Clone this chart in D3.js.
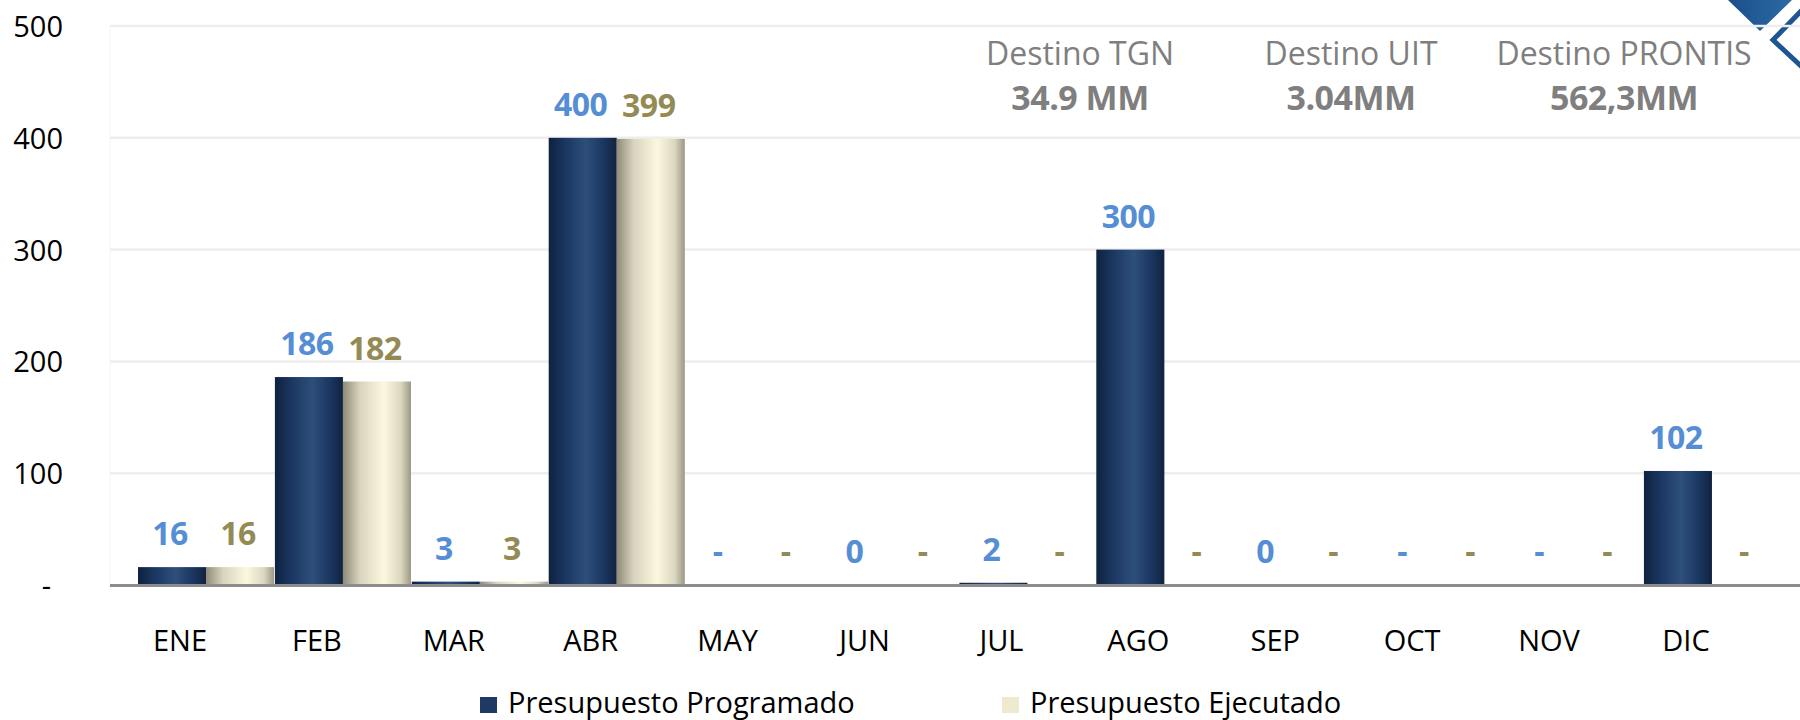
<!DOCTYPE html>
<html>
<head>
<meta charset="utf-8">
<script src="https://cdn.jsdelivr.net/npm/d3@7"></script>
<style>
  html, body { margin: 0; padding: 0; background: #ffffff; }
  svg { display: block; font-family: "Open Sans", "Noto Sans", sans-serif; }
</style>
</head>
<body>
<svg id="chart" width="1800" height="720"></svg>
<script>
// ---------- data ----------
const months = ["ENE", "FEB", "MAR", "ABR", "MAY", "JUN", "JUL", "AGO", "SEP", "OCT", "NOV", "DIC"];
const programado = [16, 186, 3, 400, null, 0, 2, 300, 0, null, null, 102];
const ejecutado = [16, 182, 3, 399, null, null, null, null, null, null, null, null];
const seriesNames = ["Presupuesto Programado", "Presupuesto Ejecutado"];
const yTicks = [0, 100, 200, 300, 400, 500];
const noteTitles = ["Destino TGN", "Destino UIT", "Destino PRONTIS"];
const noteValues = ["34.9 MM", "3.04MM", "562,3MM"];

// ---------- setup ----------
const svg = d3.select("#chart");
const plotLeft = 110, plotRight = 1800, plotTop = 26, plotBottom = 585;

const defs = svg.append("defs");
function hGrad(id, stops) {
  const g = defs.append("linearGradient").attr("id", id)
    .attr("x1", "0%").attr("x2", "100%").attr("y1", "0%").attr("y2", "0%");
  stops.forEach(s => g.append("stop").attr("offset", s[0]).attr("stop-color", s[1]));
}
hGrad("gradProg", [["0%", "#0f223f"], ["25%", "#1b3762"], ["55%", "#2e4f7b"], ["80%", "#1b3762"], ["100%", "#10233f"]]);
hGrad("gradEje", [["0%", "#8f8b78"], ["25%", "#d9d4bd"], ["60%", "#fcf7df"], ["85%", "#dcd7c0"], ["100%", "#9c9884"]]);
hGrad("gradLogo", [["0%", "#1a4f8a"], ["100%", "#2d6aa6"]]);

const seriesData = [programado, ejecutado];
const seriesFill = ["url(#gradProg)", "url(#gradEje)"];
const labelColors = ["#558ed5", "#948a54"];
const legendColors = ["#1f3864", "#eeeacf"];

const x0 = d3.scaleBand().domain(months).range([138, 1780]).paddingInner(0.006).paddingOuter(0);
const x1 = d3.scaleBand().domain([0, 1]).range([0, x0.bandwidth()]).padding(0);
const y = d3.scaleLinear().domain([0, 500]).range([plotBottom, plotTop]);

// ---------- logo (top right, partial) ----------
const logo = svg.append("g");
logo.append("path")
  .attr("d", "M1728,0 L1792,0 L1760,31 Z")
  .attr("fill", "url(#gradLogo)");
logo.append("path")
  .attr("d", "M1802,10 L1773,40 L1802,67")
  .attr("fill", "none").attr("stroke", "#1f5592").attr("stroke-width", 5);

// ---------- gridlines ----------
svg.append("line")
  .attr("x1", plotLeft).attr("x2", plotLeft)
  .attr("y1", y(500)).attr("y2", plotBottom)
  .attr("stroke", "#f4f4f4").attr("stroke-width", 1);

svg.append("g").selectAll("line")
  .data(yTicks.filter(d => d > 0))
  .join("line")
  .attr("x1", plotLeft).attr("x2", plotRight)
  .attr("y1", d => y(d)).attr("y2", d => y(d))
  .attr("stroke", "#eeeeee").attr("stroke-width", 2.5);

// ---------- y axis ----------
const yAxis = d3.axisLeft(y).tickValues(yTicks).tickSize(0).tickPadding(0)
  .tickFormat(d => d === 0 ? "-" : d3.format("d")(d));
const yg = svg.append("g").attr("transform", "translate(63,0)").call(yAxis);
yg.select(".domain").remove();
yg.selectAll("text")
  .attr("font-family", "Open Sans, Noto Sans, sans-serif")
  .attr("font-size", 29).attr("fill", "#000")
  .attr("dy", "0.36em")
  .attr("dx", d => d === 0 ? -12 : 0);

// ---------- bars ----------
const groups = svg.append("g").selectAll("g")
  .data(months)
  .join("g")
  .attr("transform", d => `translate(${x0(d)},0)`);

groups.selectAll("rect")
  .data((m, i) => seriesData.map((s, k) => ({ k, v: s[i] })))
  .join("rect")
  .filter(d => d.v !== null && d.v > 0)
  .attr("x", d => x1(d.k))
  .attr("width", x1.bandwidth())
  .attr("y", d => y(d.v))
  .attr("height", d => y(0) - y(d.v))
  .attr("fill", d => seriesFill[d.k]);

// ---------- baseline ----------
svg.append("line")
  .attr("x1", plotLeft).attr("x2", plotRight)
  .attr("y1", plotBottom + 0.5).attr("y2", plotBottom + 0.5)
  .attr("stroke", "#8c8c8c").attr("stroke-width", 3);

// ---------- value labels ----------
groups.selectAll("text.val")
  .data((m, i) => seriesData.map((s, k) => ({ k, v: s[i] })))
  .join("text")
  .attr("class", "val")
  .attr("x", d => x1(d.k) + x1.bandwidth() / 2 - 2)
  .attr("y", d => y(d.v === null ? 0 : d.v) - 22)
  .attr("text-anchor", "middle")
  .attr("font-family", "Open Sans, Noto Sans, sans-serif")
  .attr("font-weight", "bold")
  .attr("font-size", 32)
  .attr("letter-spacing", -0.5)
  .attr("fill", d => labelColors[d.k])
  .text(d => d.v === null ? "-" : d3.format("d")(d.v));

// ---------- x axis labels ----------
const xAxis = d3.axisBottom(x0).tickSize(0).tickPadding(0);
const xg = svg.append("g").attr("transform", `translate(0,${plotBottom})`).call(xAxis);
xg.select(".domain").remove();
xg.selectAll("text")
  .attr("font-family", "Open Sans, Noto Sans, sans-serif")
  .attr("font-size", 29).attr("fill", "#000")
  .attr("dx", -26).attr("dy", 0)
  .attr("y", 66);

// ---------- legend ----------
const legendX = [480, 1002];
const lg = svg.append("g").selectAll("g")
  .data(seriesNames)
  .join("g")
  .attr("transform", (d, i) => `translate(${legendX[i]},0)`);
lg.append("rect")
  .attr("x", 0).attr("y", 697).attr("width", 17).attr("height", 16)
  .attr("fill", (d, i) => legendColors[i]);
lg.append("text")
  .attr("x", 28).attr("y", 713)
  .attr("font-size", 29).attr("fill", "#000")
  .text(d => d);

// ---------- annotations ----------
const noteX = [1080, 1351, 1624];
const ng = svg.append("g").selectAll("g")
  .data(noteTitles)
  .join("g")
  .attr("transform", (d, i) => `translate(${noteX[i]},0)`);
ng.append("text")
  .attr("y", 65).attr("text-anchor", "middle")
  .attr("font-size", 32).attr("fill", "#7f7f7f")
  .text(d => d);
ng.append("text")
  .attr("y", 110).attr("text-anchor", "middle")
  .attr("font-size", 34).attr("font-weight", "bold").attr("fill", "#7f7f7f")
  .attr("letter-spacing", -0.5)
  .text((d, i) => noteValues[i]);
</script>
</body>
</html>
